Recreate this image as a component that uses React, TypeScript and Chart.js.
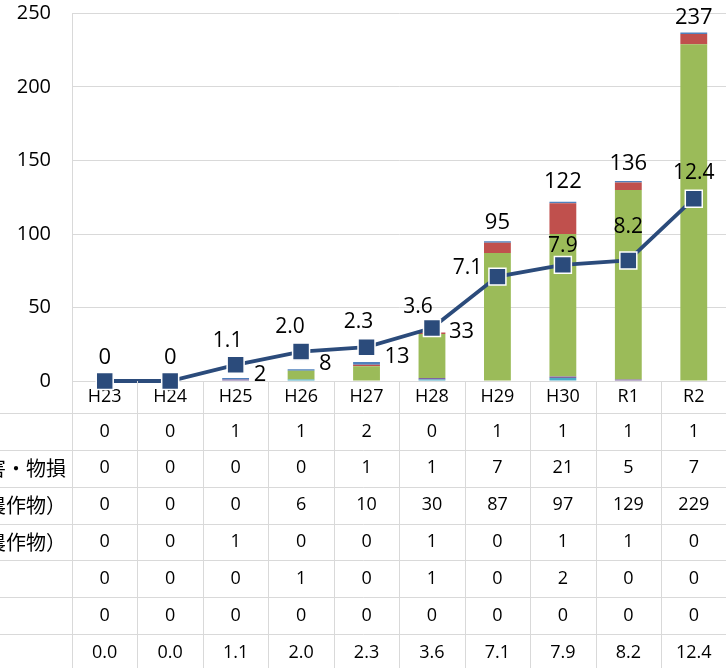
import React, { useEffect, useRef } from 'react';
import { Chart, registerables } from 'chart.js';

Chart.register(...registerables);

// ---------- data ----------
const categories = ['H23', 'H24', 'H25', 'H26', 'H27', 'H28', 'H29', 'H30', 'R1', 'R2'];
const seriesNames = [
  '人身被害',
  '生活環境被害・物損',
  '踏み荒し（農作物）',
  '食害被害（農作物）',
  'その他',
  '不明',
  '被害率',
];
const series1 = [0, 0, 1, 1, 2, 0, 1, 1, 1, 1];
const series2 = [0, 0, 0, 0, 1, 1, 7, 21, 5, 7];
const series3 = [0, 0, 0, 6, 10, 30, 87, 97, 129, 229];
const series4 = [0, 0, 1, 0, 0, 1, 0, 1, 1, 0];
const series5 = [0, 0, 0, 1, 0, 1, 0, 2, 0, 0];
const series6 = [0, 0, 0, 0, 0, 0, 0, 0, 0, 0];
const rateValues = [0.0, 0.0, 1.1, 2.0, 2.3, 3.6, 7.1, 7.9, 8.2, 12.4];
const yMin = 0;
const yMax = 250;
const yStep = 50;
const y2Max = 25;

// ---------- styles ----------
const barColors = ['#4F81BD', '#C0504D', '#9BBB59', '#8064A2', '#4BACC6', '#F79646'];
const lineColor = '#2B4B7B';
const gridColor = '#D9D9D9';
const numFont = "'Open Sans', sans-serif";
const jpFont = "'Noto Sans CJK JP', sans-serif";

// label placement tweaks (px offsets from anchor)
const totalLabelPos = [
  { dx: 0, dy: -23, align: 'center' },
  { dx: 0, dy: -23, align: 'center' },
  { dx: 18, dy: -3, align: 'left' },
  { dx: 18, dy: -6, align: 'left' },
  { dx: 18, dy: -5, align: 'left' },
  { dx: 17, dy: -1, align: 'left' },
  { dx: 0, dy: -19, align: 'center' },
  { dx: 0, dy: -20, align: 'center' },
  { dx: 0, dy: -17, align: 'center' },
  { dx: 0, dy: -15, align: 'center' },
];
const rateLabelPos = [
  null,
  null,
  { dx: -8, dy: -24 },
  { dx: -11, dy: -25 },
  { dx: -8, dy: -25 },
  { dx: -14, dy: -21 },
  { dx: -30, dy: -9 },
  { dx: 0, dy: -19 },
  { dx: 0, dy: -33 },
  { dx: 0, dy: -26 },
];

const CANVAS_W = 740;
const CANVAS_H = 680;
const ROW_H = 36.85;
const LABEL_END_X = 66;

const tableRows = [series1, series2, series3, series4, series5, series6, rateValues];

const labelsPlugin = {
  id: 'customLabels',
  afterDatasetsDraw(chart: any) {
    const ctx = chart.ctx;
    const xs = chart.scales.x;
    const ys = chart.scales.y;
    ctx.save();
    ctx.fillStyle = '#000';
    ctx.textBaseline = 'middle';
    ctx.font = `22px ${numFont}`;
    categories.forEach((_, i) => {
      const total = series1[i] + series2[i] + series3[i] + series4[i] + series5[i] + series6[i];
      const p = totalLabelPos[i];
      const x = xs.getPixelForValue(i);
      const y = ys.getPixelForValue(total);
      ctx.textAlign = p.align;
      ctx.fillText(String(total), x + p.dx, y + p.dy);
    });
    const lineMeta = chart.getDatasetMeta(chart.data.datasets.length - 1);
    ctx.font = `21px ${numFont}`;
    ctx.textAlign = 'center';
    rateValues.forEach((v, i) => {
      const p = rateLabelPos[i];
      if (!p) return;
      const pt = lineMeta.data[i];
      ctx.fillText(v.toFixed(1), pt.x + p.dx, pt.y + p.dy);
    });
    ctx.restore();
  },
};

const tablePlugin = {
  id: 'dataTable',
  afterDraw(chart: any) {
    const ctx = chart.ctx;
    const xs = chart.scales.x;
    const { left, right, bottom } = chart.chartArea;
    const top = xs.bottom;
    ctx.save();
    ctx.strokeStyle = gridColor;
    ctx.lineWidth = 1;
    ctx.beginPath();
    for (let k = 0; k <= tableRows.length; k++) {
      const y = Math.round(top + k * ROW_H) + 0.5;
      ctx.moveTo(0, y);
      ctx.lineTo(right, y);
    }
    const catW = (right - left) / categories.length;
    for (let k = 0; k <= categories.length; k++) {
      const x = Math.round(left + k * catW) + 0.5;
      ctx.moveTo(x, bottom);
      ctx.lineTo(x, CANVAS_H);
    }
    ctx.stroke();

    ctx.fillStyle = '#000';
    ctx.textBaseline = 'middle';
    ctx.font = `20px ${jpFont}`;
    const startX = LABEL_END_X - ctx.measureText(seriesNames[1]).width;
    tableRows.forEach((vals, r) => {
      const cy = top + (r + 0.5) * ROW_H;
      ctx.font = `20px ${jpFont}`;
      ctx.textAlign = 'left';
      ctx.fillText(seriesNames[r], startX, cy);
      ctx.font = `18px ${numFont}`;
      ctx.textAlign = 'center';
      vals.forEach((v, i) => {
        const txt = r === tableRows.length - 1 ? v.toFixed(1) : String(v);
        ctx.fillText(txt, xs.getPixelForValue(i), cy);
      });
    });
    ctx.restore();
  },
};

export default function App() {
  const ref = useRef<HTMLCanvasElement | null>(null);

  useEffect(() => {
    if (!ref.current) return;
    const barSeries = [series1, series2, series3, series4, series5, series6];
    const stackOrder = [5, 4, 3, 2, 1, 0];
    const barDatasets = stackOrder.map((idx) => ({
      type: 'bar' as const,
      label: seriesNames[idx],
      data: barSeries[idx],
      backgroundColor: barColors[idx],
      borderWidth: 0,
      categoryPercentage: 1,
      barPercentage: 0.41,
      yAxisID: 'y',
      order: 1,
      stack: 's',
    }));
    const chart = new Chart(ref.current, {
      type: 'bar',
      data: {
        labels: categories,
        datasets: [
          ...barDatasets,
          {
            type: 'line' as const,
            label: seriesNames[6],
            data: rateValues,
            yAxisID: 'y2',
            borderColor: lineColor,
            backgroundColor: lineColor,
            borderWidth: 3.8,
            pointStyle: 'rect',
            pointRadius: 12,
            pointBackgroundColor: lineColor,
            pointBorderColor: '#FFFFFF',
            pointBorderWidth: 1.5,
            tension: 0,
            clip: false,
            order: 0,
          } as any,
        ],
      },
      options: {
        responsive: false,
        animation: false,
        devicePixelRatio: 1,
        layout: { padding: { left: 0, top: 11, right: 8, bottom: CANVAS_H - 413 } },
        plugins: {
          legend: { display: false },
          tooltip: { enabled: false },
        },
        scales: {
          x: {
            stacked: true,
            offset: true,
            grid: { display: false, drawTicks: false },
            border: { display: false },
            ticks: {
              color: '#000',
              font: { family: numFont, size: 18 },
              padding: 5,
              autoSkip: false,
              maxRotation: 0,
            },
            afterFit: (s: any) => {
              s.height = 32;
              s.paddingLeft = 0;
              s.paddingRight = 0;
            },
          },
          y: {
            stacked: true,
            min: yMin,
            max: yMax,
            ticks: {
              stepSize: yStep,
              color: '#000',
              font: { family: numFont, size: 20 },
              padding: 21,
            },
            grid: { color: gridColor, lineWidth: 1, drawTicks: false },
            border: { display: true, color: gridColor, width: 1 },
            afterFit: (s: any) => {
              s.width = 72;
              s.paddingTop = 0;
              s.paddingBottom = 0;
            },
          },
          y2: {
            display: false,
            min: 0,
            max: y2Max,
            position: 'right',
          },
        },
      },
      plugins: [labelsPlugin, tablePlugin],
    } as any);
    return () => chart.destroy();
  }, []);

  return (
    <div
      style={{
        position: 'fixed',
        left: 0,
        top: 0,
        width: 726,
        height: 668,
        overflow: 'hidden',
        background: '#fff',
      }}
    >
      <canvas
        ref={ref}
        width={CANVAS_W}
        height={CANVAS_H}
        style={{ display: 'block', width: CANVAS_W, height: CANVAS_H }}
      />
    </div>
  );
}
